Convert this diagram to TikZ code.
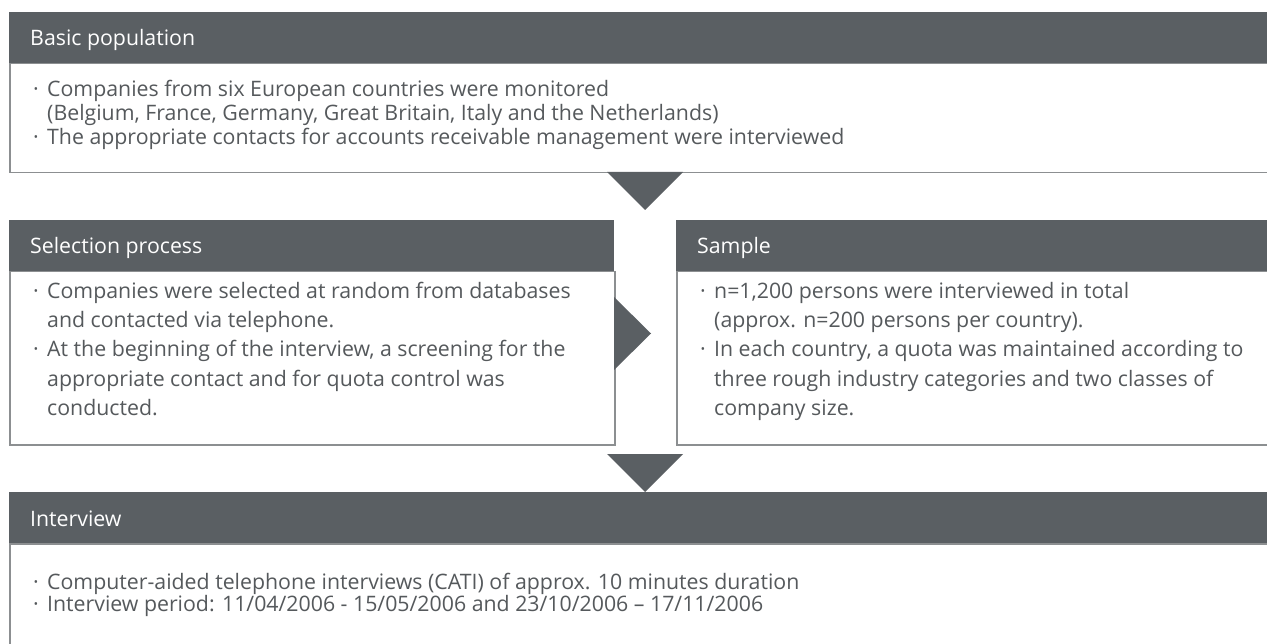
\documentclass[tikz,border=0pt]{standalone}
\usepackage{fontspec}
\setmainfont{Open Sans}
\definecolor{hdrgray}{HTML}{5A5F63}
\definecolor{bordergray}{HTML}{8C8F91}
\definecolor{textgray}{HTML}{55595C}
\newcommand{\bul}{\makebox[14pt][l]{·}}
\begin{document}
\begin{tikzpicture}[x=1pt,y=-1pt,
  hdrbox/.style={rectangle, fill=hdrgray, draw=none, anchor=north west, inner sep=0pt},
  bodybox/.style={rectangle, draw=bordergray, line width=1.5pt, fill=white, anchor=north west, inner sep=0pt},
  arrowtri/.style={fill=hdrgray, draw=none},
  htext/.style={anchor=base west, inner sep=0pt, text=white, font=\fontsize{21.3}{25}\selectfont},
  btext/.style={anchor=base west, inner sep=0pt, text=textgray, font=\fontsize{21.3}{25}\selectfont}]
\useasboundingbox (0,0) rectangle (1267,644);
\fill[white] (0,0) rectangle (1267,644);

% Basic population
\node[bodybox, minimum width=1300pt, minimum height=109pt] (basicbody) at (9,63) {};
\node[hdrbox, minimum width=1300pt, minimum height=51pt] (basichdr) at (9,12) {};
\node[htext] (basictitle) at (30,46) {Basic population};
\node[btext] (b1) at (33,97) {\bul Companies from six European countries were monitored};
\node[btext] (b2) at (47,121) {(Belgium, France, Germany, Great Britain, Italy and the Netherlands)};
\node[btext] (b3) at (33,145) {\bul The appropriate contacts for accounts receivable management were interviewed};

% Selection process
\node[bodybox, minimum width=605pt, minimum height=173pt] (selbody) at (9,271) {};
\node[hdrbox, minimum width=605pt, minimum height=51pt] (selhdr) at (9,220) {};
\node[htext] (seltitle) at (30,254) {Selection process};
\node[btext] (s1) at (33,299) {\bul Companies were selected at random from databases};
\node[btext] (s2) at (47,328) {and contacted via telephone.};
\node[btext] (s3) at (33,357) {\bul At the beginning of the interview, a screening for the};
\node[btext] (s4) at (47,386) {appropriate contact and for quota control was};
\node[btext] (s5) at (47,415) {conducted.};

% Sample
\node[bodybox, minimum width=650pt, minimum height=173pt] (sambody) at (676,271) {};
\node[hdrbox, minimum width=650pt, minimum height=51pt] (samhdr) at (676,220) {};
\node[htext] (samtitle) at (697,254) {Sample};
\node[btext] (m1) at (700,299) {\bul n=1,200 persons were interviewed in total};
\node[btext] (m2) at (714,328) {(approx. n=200 persons per country).};
\node[btext] (m3) at (700,357) {\bul In each country, a quota was maintained according to};
\node[btext] (m4) at (714,386) {three rough industry categories and two classes of};
\node[btext] (m5) at (714,415) {company size.};

% Interview
\node[bodybox, minimum width=1300pt, minimum height=130pt] (intbody) at (9,543) {};
\node[hdrbox, minimum width=1300pt, minimum height=51pt] (inthdr) at (9,492) {};
\node[htext] (inttitle) at (30,526) {Interview};
\node[btext] (i1) at (33,589) {\bul Computer-aided telephone interviews (CATI) of approx. 10 minutes duration};
\node[btext] (i2) at (33,611) {\bul Interview period: 11/04/2006 - 15/05/2006 and 23/10/2006 – 17/11/2006};

% Arrows
\fill[arrowtri] (607,172) -- (683,172) -- (645,210) -- cycle;
\fill[arrowtri] (614,297) -- (651,333.5) -- (614,370) -- cycle;
\fill[arrowtri] (607,454) -- (683,454) -- (645,492) -- cycle;
\end{tikzpicture}
\end{document}
